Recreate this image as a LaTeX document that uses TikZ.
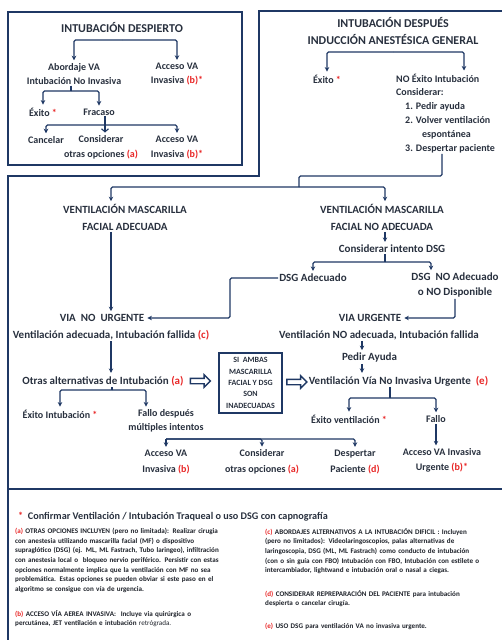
\documentclass[tikz,border=0pt]{standalone}
\usepackage{fontspec}
\setmainfont{Carlito}
\usetikzlibrary{arrows.meta,shapes.arrows}

\definecolor{navy}{RGB}{31,56,100}
\definecolor{txt}{RGB}{40,48,62}
\definecolor{notetxt}{RGB}{30,34,42}
\definecolor{alert}{RGB}{232,38,38}
\newcommand{\redtxt}[1]{\textcolor{alert}{#1}}
\newcommand{\jline}[1]{\makebox[\linewidth][s]{#1}}

\tikzset{
  frame/.style={draw=navy,line width=1.8pt},
  conn/.style={draw=navy,line width=1.1pt,rounded corners=1.5pt},
  arr/.style={conn,-{Stealth[length=4.5pt,width=4.5pt]},shorten >=2pt},
  varr/.style={conn,-{Straight Barb[length=3pt,width=7pt]},shorten >=2pt},
  lbl/.style={font=\bfseries\fontsize{10}{15}\selectfont,text=txt,inner sep=1pt,align=center},
  big/.style={lbl,font=\bfseries\fontsize{11}{15}\selectfont},
  ttl/.style={lbl,font=\bfseries\fontsize{12}{17}\selectfont},
  hdg/.style={lbl,font=\bfseries\fontsize{11}{17}\selectfont},
  fat/.style={single arrow,draw=navy,line width=1.4pt,minimum height=20pt,minimum width=12pt,single arrow head extend=3.5pt,inner sep=2pt},
  sibox/.style={frame,font=\bfseries\fontsize{8}{11.3}\selectfont,text=txt,align=center,minimum width=63pt,minimum height=60pt,inner sep=0pt},
  note/.style={font=\bfseries\fontsize{7.1}{9.7}\selectfont,text=notetxt,inner sep=0pt,align=left,anchor=north west},
}

\begin{document}
\begin{tikzpicture}[x=1pt,y=1pt,yscale=-1]
\useasboundingbox (0,0) rectangle (502,640);

%Frames
\draw[frame] (8,12) rectangle (242,165);
\draw[frame] (506,11) -- (259,11) -- (259,176) -- (8,176) -- (8,645);
\draw[frame] (8,489) -- (506,489);

%Columns used by the connectors
\coordinate (colL) at (111,0);
\coordinate (colM) at (385,0);
\coordinate (colR) at (362,0);

% Text Node
\node[ttl] (despierto) at (122,28) {INTUBACIÓN DESPIERTO};
\node[lbl,font=\bfseries\fontsize{10}{14}\selectfont] (abordaje) at (74,74) {Abordaje VA\\Intubación No Invasiva};
\node[lbl,font=\bfseries\fontsize{10}{14}\selectfont] (invasiva1) at (177,74) {Acceso VA\\Invasiva \redtxt{(b)*}};
\node[lbl] (exito1) at (43,112) {Éxito \redtxt{*}};
\node[lbl] (fracaso) at (99,112) {Fracaso};
\node[lbl] (cancelar) at (46,140) {Cancelar};
\node[lbl] (otras1) at (101,147.5) {Considerar\\otras opciones \redtxt{(a)}};
\node[lbl] (invasiva2) at (177,147.5) {Acceso VA\\Invasiva \redtxt{(b)*}};

%Connectors
\coordinate (b1) at (122,40);
\draw[arr] (b1) -| (abordaje);
\draw[arr] (b1) -| (invasiva1);
\coordinate (b2) at (71,91);
\draw[conn] (abordaje.south -| b2) -- (b2);
\draw[arr] (b2) -| (exito1);
\draw[arr] (b2) -| (fracaso);
\coordinate (b3) at (105,125);
\draw[arr] (b3) -| (cancelar);
\draw[arr] (b3) -| (invasiva2);
\draw[varr] (fracaso.south -| b3) -- (otras1.north -| b3);

% Text Node
\node[ttl] (despues) at (393,31.5) {INTUBACIÓN DESPUÉS\\INDUCCIÓN ANESTÉSICA GENERAL};
\node[lbl] (exito2) at (327,79) {Éxito \redtxt{*}};
\node[lbl,align=left,anchor=north west,font=\bfseries\fontsize{10}{13.8}\selectfont] (noexito) at (395,72.5) {NO Éxito Intubación\\Considerar:\\\hspace*{9pt}1. Pedir ayuda\\\hspace*{9pt}2. Volver ventilación\\\hspace*{26pt}espontánea\\\hspace*{9pt}3. Despertar paciente};

%Connectors
\coordinate (b4) at (393,52);
\coordinate (k1) at (464,0);
\draw[arr] (b4) -| (exito2);
\draw[arr] (b4) -| (noexito.north -| k1);
\coordinate (k2) at (442,176);
\coordinate (b5) at (299,187);
\draw[conn] (noexito.south -| k2) -- (k2) -| (b5);

% Text Node
\node[hdg] (vmfa) at (125,217.5) {VENTILACIÓN MASCARILLA\\FACIAL ADECUADA};
\node[hdg] (vmfna) at (382,217.5) {VENTILACIÓN MASCARILLA\\FACIAL NO ADECUADA};
\node[big] (intdsg) at (392,249) {Considerar intento DSG};
\node[big] (dsgok) at (313,278) {DSG Adecuado};
\node[big] (dsgno) at (455,285.5) {DSG\ \ NO Adecuado\\o NO Disponible};
\node[hdg] (noturg) at (102,318) {VIA\ \ NO\ \ URGENTE};
\node[hdg] (urg) at (370,318) {VIA URGENTE};

%Connectors
\draw[arr] (b5) -| (vmfa.north -| colL);
\draw[arr] (b5) -| (vmfna.north -| colM);
\draw[arr] (vmfna.south -| colM) -- (intdsg.north -| colM);
\coordinate (b6) at (385,262);
\coordinate (k3) at (431,0);
\draw[conn] (intdsg.south -| b6) -- (b6);
\draw[arr] (b6) -| (dsgok);
\draw[arr] (b6) -| (dsgno.north -| k3);
\coordinate (k4) at (230,318);
\draw[arr] (dsgok.west) -| (k4) -- (noturg.east);
\draw[arr] (dsgno.south) |- (urg.east);
\draw[arr] (vmfa.south -| colL) -- (noturg.north -| colL);

% Text Node
\node[big] (vaif) at (111,335) {Ventilación adecuada, Intubación fallida \redtxt{(c)}};
\node[big] (vnaif) at (379,335) {Ventilación NO adecuada, Intubación fallida};
\node[big] (ayuda) at (369.5,358) {Pedir Ayuda};
\node[big] (otrasalt) at (103,381) {Otras alternativas de Intubación \redtxt{(a)}};
\node[big] (vvniu) at (398.5,381) {Ventilación Vía No Invasiva Urgente\ \ \redtxt{(e)}};
\node[sibox] (ambas) at (250.5,383) {SI\ \ AMBAS\\MASCARILLA\\FACIAL Y DSG\\SON\\INADECUADAS};
\node[fat] (fatL) at (199,381) {};
\node[fat] (fatR) at (295.5,382) {};

%Connectors
\draw[arr] (vnaif.south -| colR) -- (ayuda.north -| colR);
\draw[arr] (ayuda.south -| colR) -- (vvniu.north -| colR);
\draw[arr] (vaif.south -| colL) -- (otrasalt.north -| colL);

% Text Node
\node[lbl] (exint) at (60,414) {Éxito Intubación \redtxt{*}};
\node[lbl,font=\bfseries\fontsize{10}{14}\selectfont] (fallo1) at (166,421) {Fallo después\\múltiples intentos};
\node[lbl,font=\bfseries\fontsize{10}{16}\selectfont] (acc3) at (166,462) {Acceso VA\\Invasiva \redtxt{(b)}};
\node[lbl,font=\bfseries\fontsize{10}{16}\selectfont] (otras3) at (262,462) {Considerar\\otras opciones \redtxt{(a)}};
\node[lbl,font=\bfseries\fontsize{10}{16}\selectfont] (desp) at (355,462) {Despertar\\Paciente \redtxt{(d)}};
\node[lbl] (exvent) at (349,419) {Éxito ventilación \redtxt{*}};
\node[lbl] (fallo2) at (436,419) {Fallo};
\node[lbl] (accurg) at (442,460.5) {Acceso VA Invasiva\\Urgente \redtxt{(b)*}};

%Connectors
\coordinate (b7) at (112,390);
\coordinate (k6) at (146,0);
\draw[conn] (otrasalt.south -| b7) -- (b7);
\draw[arr] (b7) -| (exint);
\draw[arr] (b7) -| (fallo1.north -| k6);
\coordinate (b8) at (166,439);
\draw[arr] (b8) -- (acc3);
\draw[arr] (b8) -| (otras3);
\draw[arr] (b8) -| (desp);
\coordinate (b9) at (390,398);
\draw[conn] (vvniu.south -| b9) -- (b9);
\draw[arr] (b9) -| (exvent);
\draw[arr] (b9) -| (fallo2);
\draw[arr] (fallo2) -- (accurg.north -| fallo2);

% Notes
\node[font=\bfseries\fontsize{10.2}{11}\selectfont,text=txt,anchor=west,inner sep=0pt] (confirmar) at (18,517) {\redtxt{*}\ \ Confirmar Ventilación / Intubación Traqueal o uso DSG con capnografía};
\node[note,text width=232pt] (notaa) at (15,528) {%
\jline{\redtxt{(a)} OTRAS OPCIONES INCLUYEN (pero no limitada): Realizar cirugia}\\
\jline{con anestesia utilizando mascarilla facial (MF) o dispositivo}\\
\jline{supraglótico (DSG) (ej. ML, ML Fastrach, Tubo laringeo), infiltración}\\
\jline{con anestesia local o \ bloqueo nervio periférico. Persistir con estas}\\
\jline{opciones normalmente implica que la ventilación con MF no sea}\\
\jline{problemática. Estas opciones se pueden obviar si este paso en el}\\
algoritmo se consigue con vía de urgencia.};
\node[note,text width=232pt] (notab) at (15,610) {%
\jline{\redtxt{(b)} ACCESO VÍA AEREA INVASIVA: \ Incluye via quirúrgica o}\\
percutánea, JET ventilación e intubación {\mdseries retrógrada.}};
\node[note,text width=233pt] (notac) at (265,528) {%
\jline{\redtxt{(c)} ABORDAJES ALTERNATIVOS A LA INTUBACIÓN DIFICIL : Incluyen}\\
\jline{(pero no limitados): Videolaringoscopios, palas alternativas de}\\
\jline{laringoscopia, DSG (ML, ML Fastrach) como conducto de intubación}\\
\jline{(con o sin guía con FBO) Intubación con FBO, Intubación con estilete o}\\
intercambiador, lightwand e intubación oral o nasal a ciegas.};
\node[note,text width=233pt] (noted) at (265,590) {%
\jline{\redtxt{(d)} CONSIDERAR REPREPARACIÓN DEL PACIENTE para intubación}\\
despierta o cancelar cirugía.};
\node[note,text width=233pt] (notee) at (265,623) {\redtxt{(e)} USO DSG para ventilación VA no invasiva urgente.};

\end{tikzpicture}
\end{document}
